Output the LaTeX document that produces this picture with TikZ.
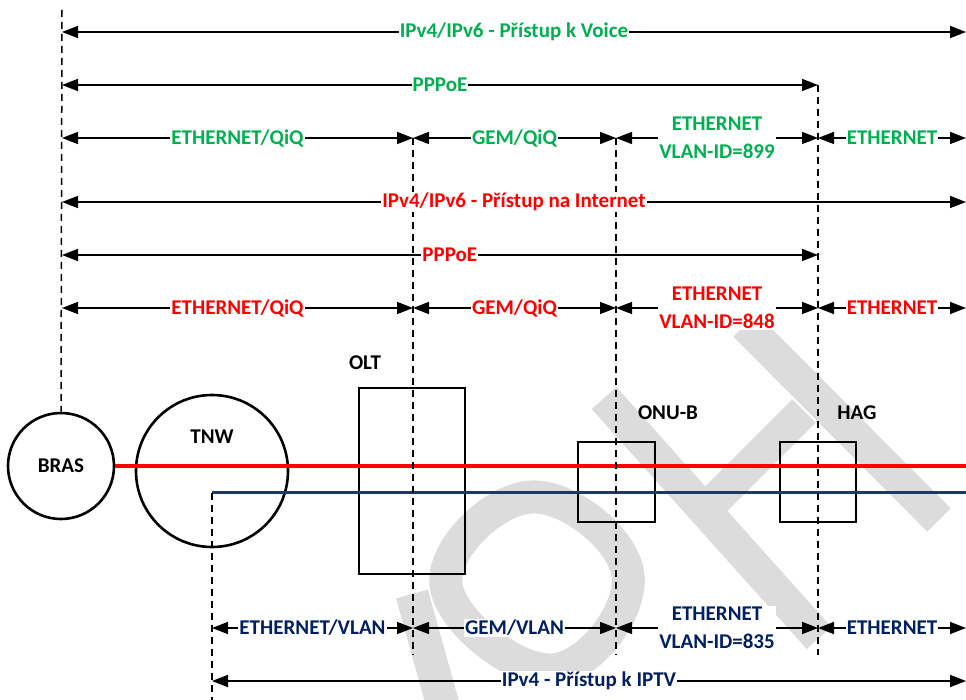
\documentclass[tikz,border=0pt]{standalone}
\usepackage{fontspec}
\setmainfont{Carlito}
\usetikzlibrary{arrows.meta,calc}
\definecolor{cgreen}{HTML}{00B050}
\definecolor{cred}{HTML}{FF0000}
\definecolor{cblue}{HTML}{002060}
\definecolor{cbline}{HTML}{1F3864}
\definecolor{wmgray}{HTML}{DCDCDC}
\tikzset{
  dim/.style={line width=1.6pt,{Triangle[length=16pt,width=12pt]}-{Triangle[length=16pt,width=12pt]}},
  lab/.style={fill=white,inner xsep=1pt,inner ysep=1pt,font=\fontsize{21}{28}\selectfont\bfseries,align=center},
  dev/.style={draw=black,line width=2.6pt},
  devlab/.style={font=\fontsize{21}{28}\selectfont\bfseries,inner sep=0pt},
  guide/.style={line width=1.5pt,dash pattern=on 7pt off 5pt},
  wm/.style={draw=wmgray,line width=33pt,line cap=butt},
  redline/.style={draw=cred,line width=3.2pt},
  blueline/.style={draw=cbline,line width=3.2pt},
}
\begin{document}
\begin{tikzpicture}[x=1pt,y=-1pt]
\useasboundingbox (0,0) rectangle (966,700);
% watermark
\begin{scope}
\clip (0,0) rectangle (966,700);
\draw[wm] (604,398) -- (819,638);
\draw[wm] (745,325) -- (939,520);
\draw[wm] (804,411) -- (715,500);
\draw[wm] plot[smooth cycle,tension=0.75] coordinates {(446,585) (531,497) (628,575) (552,670)};
\draw[wm] (412,594) -- (447,720);
\end{scope}
% columns and rows
\coordinate (cA) at (62,0);
\coordinate (cB) at (212,0);
\coordinate (cC) at (413,0);
\coordinate (cD) at (616,0);
\coordinate (cE) at (818,0);
\coordinate (cF) at (966,0);
\coordinate (r1) at (0,32);
\coordinate (r2) at (0,85);
\coordinate (r3) at (0,138);
\coordinate (r4) at (0,202);
\coordinate (r5) at (0,255);
\coordinate (r6) at (0,308);
\coordinate (r7) at (0,628);
\coordinate (r8) at (0,681);
\coordinate (top) at (0,10);
\coordinate (bot) at (0,655);
\coordinate (bl) at (212,492.5);
% devices
\node[dev,circle,minimum size=106pt,inner sep=0pt] (bras) at (61,466) {};
\node[devlab] (braslab) at (bras.center) {BRAS};
\node[dev,circle,minimum size=152pt,inner sep=0pt] (tnw) at (212,471) {};
\node[devlab] (tnwlab) at (212,437) {TNW};
\node[dev,rectangle,minimum width=106pt,minimum height=186pt,inner sep=0pt] (olt) at (412,481) {};
\node[devlab] (oltlab) at (365,363) {OLT};
\node[dev,rectangle,minimum width=77pt,minimum height=80pt,inner sep=0pt] (onu) at (616.5,482) {};
\node[devlab] (onulab) at (668,413) {ONU-B};
\node[dev,rectangle,minimum width=76pt,minimum height=80pt,inner sep=0pt] (hag) at (818,482) {};
\node[devlab] (haglab) at (857,413) {HAG};
% signal lines
\draw[redline] (bras.east) -- (bras.east -| cF);
\draw[blueline] (bl) -- (bl -| cF);
% guides
\draw[guide] (cA|-top) -- (bras.north);
\draw[guide] (bl) -- (cB|-0,700);
\draw[guide] (cC|-r3) -- (cC|-bot);
\draw[guide] (cD|-r3) -- (cD|-bot);
\draw[guide] (cE|-r2) -- (cE|-bot);
% voice
\draw[dim] (cA|-r1) -- node[lab,text=cgreen]{IPv4/IPv6 - Přístup k Voice} (cF|-r1);
\draw[dim] (cA|-r2) -- node[lab,text=cgreen]{PPPoE} (cE|-r2);
\draw[dim] (cA|-r3) -- node[lab,text=cgreen]{ETHERNET/QiQ} (cC|-r3);
\draw[dim] (cC|-r3) -- node[lab,text=cgreen]{GEM/QiQ} (cD|-r3);
\draw[dim] (cD|-r3) -- node[lab,text=cgreen]{ETHERNET\\VLAN-ID=899} (cE|-r3);
\draw[dim] (cE|-r3) -- node[lab,text=cgreen]{ETHERNET} (cF|-r3);
% internet
\draw[dim] (cA|-r4) -- node[lab,text=cred]{IPv4/IPv6 - Přístup na Internet} (cF|-r4);
\draw[dim] (cA|-r5) -- node[lab,text=cred,pos=0.513]{PPPoE} (cE|-r5);
\draw[dim] (cA|-r6) -- node[lab,text=cred]{ETHERNET/QiQ} (cC|-r6);
\draw[dim] (cC|-r6) -- node[lab,text=cred]{GEM/QiQ} (cD|-r6);
\draw[dim] (cD|-r6) -- node[lab,text=cred]{ETHERNET\\VLAN-ID=848} (cE|-r6);
\draw[dim] (cE|-r6) -- node[lab,text=cred]{ETHERNET} (cF|-r6);
% iptv
\draw[dim] (cB|-r7) -- node[lab,text=cblue]{ETHERNET/VLAN} (cC|-r7);
\draw[dim] (cC|-r7) -- node[lab,text=cblue]{GEM/VLAN} (cD|-r7);
\draw[dim] (cD|-r7) -- node[lab,text=cblue]{ETHERNET\\VLAN-ID=835} (cE|-r7);
\draw[dim] (cE|-r7) -- node[lab,text=cblue]{ETHERNET} (cF|-r7);
\draw[dim] (cB|-r8) -- node[lab,text=cblue]{IPv4 - Přístup k IPTV} (cF|-r8);
\end{tikzpicture}
\end{document}
